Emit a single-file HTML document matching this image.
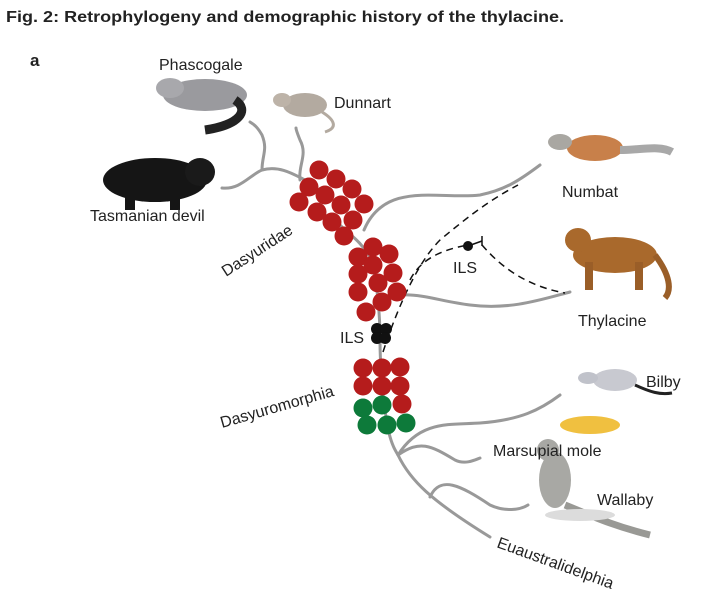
<!DOCTYPE html>
<html><head><style>
body{margin:0;background:#fff;}
svg{display:block;}
text{font-family:"Liberation Sans",sans-serif;fill:#222;}
</style></head><body>
<svg width="714" height="600" viewBox="0 0 714 600" xmlns="http://www.w3.org/2000/svg">
<text x="6" y="22" font-size="16" font-weight="bold" fill="#1a1a1a" textLength="558" lengthAdjust="spacingAndGlyphs">Fig. 2: Retrophylogeny and demographic history of the thylacine.</text>
<text x="30" y="66" font-size="17" font-weight="bold">a</text>

<g fill="none" stroke="#999" stroke-width="3" stroke-linecap="round">
<path d="M222,188 C240,190 250,175 262,170 C280,165 295,175 305,180"/>
<path d="M262,170 C262,155 268,150 262,135 C258,128 255,125 250,122"/>
<path d="M300,180 C298,165 308,155 300,140 C298,135 296,130 296,128"/>
<path d="M340,225 C350,235 360,240 372,260 C378,290 380,320 380,340 C380,360 382,400 389,433 C392,445 395,450 398,455 C410,480 430,500 490,537"/>
<path d="M364,230 C385,180 440,200 480,195 C505,190 520,180 540,165"/>
<path d="M380,305 C400,285 430,300 470,305 C510,310 540,300 570,292"/>
<path d="M398,455 C420,420 450,425 480,423 C520,420 540,410 560,395"/>
<path d="M398,455 C420,440 430,445 455,460 C465,465 475,460 480,458"/>
<path d="M430,497 C440,475 460,485 490,505 C505,512 520,510 528,505"/>
</g>
<g fill="none" stroke="#111" stroke-width="1.5" stroke-dasharray="7,5">
<path d="M383,352 C400,300 420,260 440,240 C470,215 490,200 518,185"/>
<path d="M410,280 C420,260 440,250 468,245"/>
<path d="M482,245 C495,260 520,285 565,293"/>
</g>
<line x1="468" y1="246" x2="482" y2="241" stroke="#111" stroke-width="1.5"/>
<line x1="482" y1="236" x2="482" y2="246" stroke="#111" stroke-width="1.5"/>
<circle cx="468" cy="246" r="5" fill="#111"/>
<text x="453" y="273" font-size="16">ILS</text>

<g fill="#b51c1c">
<circle cx="319" cy="170" r="9.5"/><circle cx="336" cy="179" r="9.5"/><circle cx="352" cy="189" r="9.5"/>
<circle cx="309" cy="187" r="9.5"/><circle cx="325" cy="195" r="9.5"/><circle cx="341" cy="205" r="9.5"/><circle cx="364" cy="204" r="9.5"/>
<circle cx="299" cy="202" r="9.5"/><circle cx="317" cy="212" r="9.5"/><circle cx="332" cy="222" r="9.5"/><circle cx="353" cy="220" r="9.5"/><circle cx="344" cy="236" r="9.5"/>
<circle cx="373" cy="247" r="9.5"/><circle cx="358" cy="257" r="9.5"/><circle cx="389" cy="254" r="9.5"/>
<circle cx="373" cy="265" r="9.5"/><circle cx="358" cy="274" r="9.5"/><circle cx="393" cy="273" r="9.5"/>
<circle cx="378" cy="283" r="9.5"/><circle cx="358" cy="292" r="9.5"/><circle cx="397" cy="292" r="9.5"/>
<circle cx="382" cy="302" r="9.5"/><circle cx="366" cy="312" r="9.5"/>
<circle cx="363" cy="368" r="9.5"/><circle cx="382" cy="368" r="9.5"/><circle cx="400" cy="367" r="9.5"/>
<circle cx="363" cy="386" r="9.5"/><circle cx="382" cy="386" r="9.5"/><circle cx="400" cy="386" r="9.5"/>
<circle cx="402" cy="404" r="9.5"/>
</g>
<g fill="#0d7a3a">
<circle cx="363" cy="408" r="9.5"/><circle cx="382" cy="405" r="9.5"/>
<circle cx="367" cy="425" r="9.5"/><circle cx="387" cy="425" r="9.5"/><circle cx="406" cy="423" r="9.5"/>
</g>
<g fill="#111">
<circle cx="377" cy="329" r="6"/><circle cx="386" cy="329" r="6"/><circle cx="377" cy="338" r="6"/><circle cx="385" cy="338" r="6"/>
</g>
<text x="340" y="343" font-size="16">ILS</text>

<g>
<ellipse cx="205" cy="95" rx="42" ry="16" fill="#9a9a9e"/><ellipse cx="170" cy="88" rx="14" ry="10" fill="#a8a8ac"/>
<path d="M235,100 C250,110 240,125 205,130" stroke="#222" stroke-width="9" fill="none"/>
<ellipse cx="305" cy="105" rx="22" ry="12" fill="#b3aaa0"/><ellipse cx="282" cy="100" rx="9" ry="7" fill="#bdb3a8"/>
<path d="M322,112 C335,120 338,128 325,132" stroke="#b3aaa0" stroke-width="3" fill="none"/>
<ellipse cx="155" cy="180" rx="52" ry="22" fill="#151515"/><ellipse cx="200" cy="172" rx="15" ry="14" fill="#1a1a1a"/>
<rect x="125" y="190" width="10" height="20" fill="#151515"/><rect x="170" y="190" width="10" height="20" fill="#151515"/>
<ellipse cx="595" cy="148" rx="28" ry="13" fill="#c8804a"/><ellipse cx="560" cy="142" rx="12" ry="8" fill="#a9a7a2"/>
<path d="M620,150 C640,150 660,145 672,152" stroke="#a8a8a8" stroke-width="8" fill="none"/>
<ellipse cx="615" cy="255" rx="42" ry="18" fill="#a9692c"/><ellipse cx="578" cy="240" rx="13" ry="12" fill="#a9692c"/>
<rect x="585" y="262" width="8" height="28" fill="#9a5e28"/><rect x="635" y="262" width="8" height="28" fill="#9a5e28"/>
<path d="M655,255 C670,275 672,290 665,298" stroke="#9a5e28" stroke-width="6" fill="none"/>
<ellipse cx="615" cy="380" rx="22" ry="11" fill="#c8c9d0"/><ellipse cx="588" cy="378" rx="10" ry="6" fill="#c0c2ca"/>
<path d="M635,385 C650,392 660,395 672,393" stroke="#222" stroke-width="3" fill="none"/>
<ellipse cx="590" cy="425" rx="30" ry="9" fill="#f0c040"/>
<ellipse cx="555" cy="480" rx="16" ry="28" fill="#a8a8a4"/><ellipse cx="548" cy="450" rx="11" ry="11" fill="#a8a8a4"/>
<path d="M565,505 C590,515 610,525 650,535" stroke="#999995" stroke-width="7" fill="none"/>
<ellipse cx="580" cy="515" rx="35" ry="6" fill="#dcdcdc"/>
</g>

<text x="159" y="70" font-size="16">Phascogale</text>
<text x="334" y="108" font-size="16">Dunnart</text>
<text x="90" y="221" font-size="16">Tasmanian devil</text>
<text x="562" y="197" font-size="16">Numbat</text>
<text x="578" y="326" font-size="16">Thylacine</text>
<text x="646" y="387" font-size="16">Bilby</text>
<text x="493" y="456" font-size="16">Marsupial mole</text>
<text x="597" y="505" font-size="16">Wallaby</text>
<text font-size="16" transform="translate(226,277) rotate(-33)">Dasyuridae</text>
<text font-size="16" transform="translate(222,428) rotate(-16)">Dasyuromorphia</text>
<text font-size="16" transform="translate(496,547) rotate(20)">Euaustralidelphia</text>
</svg>
</body></html>
